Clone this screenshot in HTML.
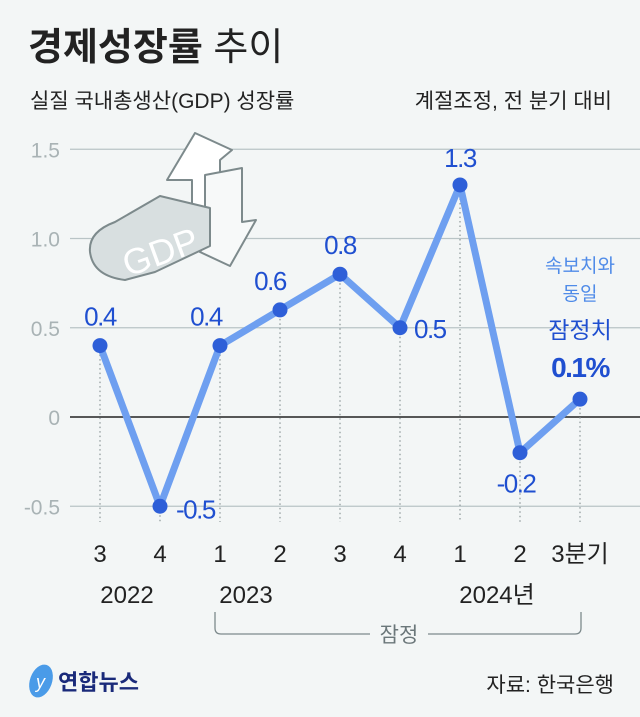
<!DOCTYPE html>
<html><head><meta charset="utf-8"><style>
body{margin:0;width:640px;height:712px;background:#f3f6f6;overflow:hidden;font-family:"Liberation Sans","Noto Sans CJK KR",sans-serif}
</style></head><body>
<svg width="640" height="712" viewBox="0 0 640 712" style="font-family:'Liberation Sans','Noto Sans CJK KR',sans-serif">
<text x="28" y="60" font-size="38" font-weight="bold" fill="#222">경제성장률 <tspan font-weight="normal">추이</tspan></text>
<text x="30" y="108" font-size="21" fill="#222">실질 국내총생산(GDP) 성장률</text>
<text x="612" y="108" font-size="21" fill="#222" text-anchor="end">계절조정, 전 분기 대비</text>
<g id="grid"></g>
<g stroke="#7d8a8c" stroke-width="2" stroke-linejoin="round">
<polygon points="195,133 232,150 220,160 220,230 192,242 192,180 167,180" fill="#fff"/>
<polygon points="205,175 242,168 242,222 256,220 230,266 200,252 205,244" fill="#f7f9f9"/>
<path d="M115,222 Q88,232 90,252 Q93,276 125,280 L155,272 L210,246 L210,208 L160,196 Z" fill="#d8dfe0"/>
<text x="128" y="277" font-size="36" fill="#fff" stroke="none" transform="rotate(-20 128 277)">GDP</text>
</g>
<g id="plot"></g>
<g font-size="24" fill="#222" text-anchor="middle" id="xlabels"></g>
<text x="127" y="603" font-size="24" text-anchor="middle" fill="#222">2022</text>
<text x="246" y="603" font-size="24" text-anchor="middle" fill="#222">2023</text>
<text x="497" y="603" font-size="24" text-anchor="middle" fill="#222">2024년</text>
<path d="M215,612 L215,628 Q215,634 221,634 L370,634 M428,634 L575,634 Q581,634 581,628 L581,612" fill="none" stroke="#7d8a8c" stroke-width="1.3"/>
<text x="399" y="642" font-size="21" text-anchor="middle" fill="#6b777a">잠정</text>
<text x="580" y="272" font-size="19" text-anchor="middle" fill="#4f8be8">속보치와</text>
<text x="580" y="300" font-size="19" text-anchor="middle" fill="#4f8be8">동일</text>
<text x="580" y="338" font-size="23" text-anchor="middle" fill="#1f4fd0">잠정치</text>
<g>
<ellipse cx="41" cy="681" rx="11" ry="17" fill="#4a9be8" transform="rotate(20 41 681)"/>
<text x="36" y="688" font-size="18" fill="#fff" font-style="italic">y</text>
<text x="58" y="690" font-size="22" font-weight="bold" fill="#1a2a7a">연합뉴스</text>
</g>
<text x="614" y="692" font-size="21" text-anchor="end" fill="#222">자료: 한국은행</text>
</svg>
<script>
const categories=["3","4","1","2","3","4","1","2","3분기"];
const values=[0.4,-0.5,0.4,0.6,0.8,0.5,1.3,-0.2,0.1];
const valueLabels=["0.4","-0.5","0.4","0.6","0.8","0.5","1.3","-0.2","0.1%"];
const yTicks=[1.5,1.0,0.5,0,-0.5];
const yTickLabels=["1.5","1.0","0.5","0","-0.5"];
const NS="http://www.w3.org/2000/svg";
const y=v=>417-v*178.5;
const x=i=>100+i*60;
function mk(t,a,p){const e=document.createElementNS(NS,t);for(const k in a)e.setAttribute(k,a[k]);p.appendChild(e);return e;}
const grid=document.getElementById('grid'),plot=document.getElementById('plot'),xl=document.getElementById('xlabels');
yTicks.forEach((v,i)=>{
 const l=mk('line',{x1:70,x2:640,y1:y(v),y2:y(v),stroke:v===0?'#222':'#b9c4c6','stroke-width':v===0?1.5:1.3},grid);
 
 
 const t=mk('text',{x:60,y:y(v)+8,'font-size':21,'text-anchor':'end',fill:'#a9b3b5'},grid);
 t.textContent=yTickLabels[i];
 
 
});
values.forEach((v,i)=>{
 const l=mk('line',{x1:x(i),x2:x(i),y1:y(v),y2:522,stroke:'#8a9597','stroke-width':1.2,'stroke-dasharray':'1.5,3'},grid);
 
 
 const t=mk('text',{x:x(i),y:562},xl);
 t.textContent=categories[i];
 
 
});
const pl=mk('polyline',{points:values.map((v,i)=>x(i)+','+y(v)).join(' '),fill:'none',stroke:'#6e9ff0','stroke-width':7,'stroke-linejoin':'round'},plot);


const off=[[0,-20,'middle'],[16,12,'start'],[-14,-20,'middle'],[-10,-20,'middle'],[0,-20,'middle'],[14,10,'start'],[0,-18,'middle'],[-4,40,'middle'],[0,-22,'middle']];
values.forEach((v,i)=>{
 const c=mk('circle',{cx:x(i),cy:y(v),r:7.5,fill:'#2e5fd8'},plot);
 
 
 const last=i===values.length-1;
 const t=mk('text',{x:x(i)+off[i][0],y:y(v)+off[i][1],'font-size':last?28:26,'font-weight':last?'bold':'normal','text-anchor':off[i][2],fill:'#1f4fd0','letter-spacing':'-1.5'},plot);
 t.textContent=valueLabels[i];
 
 
});
</script>
</body></html>
